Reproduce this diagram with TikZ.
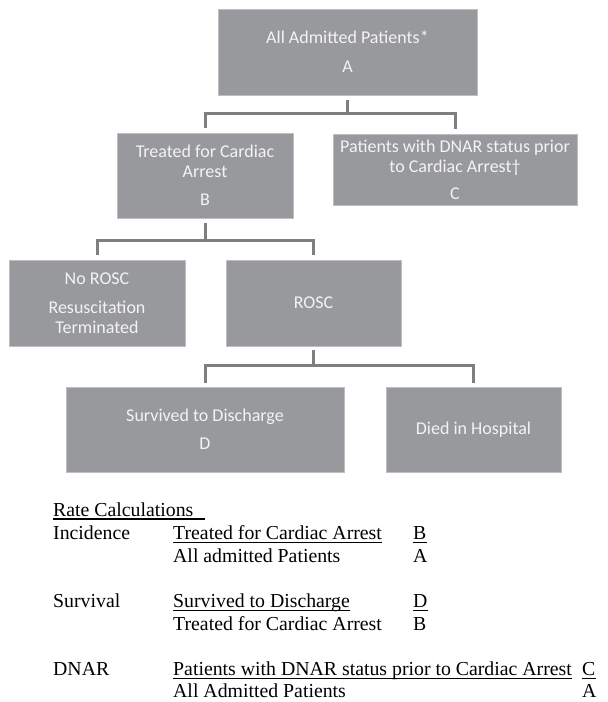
\documentclass[tikz,border=0pt]{standalone}
\usepackage{fontspec}
\setmainfont{Liberation Serif}
\newfontfamily\boxfont{Carlito}
\definecolor{boxgray}{RGB}{152,153,157}
\definecolor{boxedge}{RGB}{190,190,192}
\definecolor{linegray}{RGB}{127,127,127}
\definecolor{boxtext}{RGB}{243,243,243}
\begin{document}
\begin{tikzpicture}[x=1pt,y=-1pt,
  box/.style={rectangle, fill=boxgray, draw=boxedge, line width=0.6pt, inner sep=0pt,
    align=center, text=boxtext, font=\boxfont\fontsize{18}{20}\selectfont},
  conn/.style={draw=linegray, line width=3pt},
  lbl/.style={anchor=base west, inner sep=0pt, font=\fontsize{19.8}{23}\selectfont},
  uline/.style={line width=0.9pt}]
\useasboundingbox (0,0) rectangle (608,702);

% boxes
\node[box, minimum width=259pt, minimum height=86pt] (A) at (347.5,52) {All Admitted Patients*\\[9pt]A};
\node[box, minimum width=176pt, minimum height=85pt] (B) at (205,175.5) {Treated for Cardiac\\Arrest\\[8pt]B};
\node[box, minimum width=244pt, minimum height=71pt] (C) at (455,169.5) {Patients with DNAR status prior\\to Cardiac Arrest†\\[7pt]C};
\node[box, minimum width=176pt, minimum height=86pt] (N) at (97,303) {No ROSC\\[9pt]Resuscitation\\Terminated};
\node[box, minimum width=175pt, minimum height=86pt] (R) at (313.5,303) {ROSC};
\node[box, minimum width=278pt, minimum height=85pt] (S) at (205,429.5) {Survived to Discharge\\[8pt]D};
\node[box, minimum width=175pt, minimum height=85pt] (H) at (473.5,429.5) {Died in Hospital};

% junctions
\coordinate (jA) at (347.5,113);
\coordinate (jB) at (205,240);
\coordinate (jR) at (313.5,365);

% connectors
\draw[conn, shorten <=5pt] (A.south) -- (jA);
\draw[conn, shorten >=5pt] (jA) -| (B.north);
\draw[conn, shorten >=5pt] (jA) -| (C.north);
\draw[conn, shorten <=5pt] (B.south) -- (jB);
\draw[conn, shorten >=5pt] (jB) -| (N.north);
\draw[conn, shorten >=5pt] (jB) -| (R.north);
\draw[conn, shorten <=4pt] (R.south) -- (jR);
\draw[conn, shorten >=4pt] (jR) -| (S.north);
\draw[conn, shorten >=4pt] (jR) -| (H.north);

% rate calculations
\node[lbl] (rc) at (53,516) {Rate Calculations};
\draw[line width=2pt] ([yshift=-3pt]rc.base west) -- ++(152,0);

\node[lbl] (i1) at (53,539) {Incidence};
\node[lbl] (i2) at (173,539) {Treated for Cardiac Arrest};
\node[lbl] (i3) at (413,539) {B};
\node[lbl] (i4) at (173,562) {All admitted Patients};
\node[lbl] (i5) at (413,562) {A};
\draw[uline] ([yshift=-3pt]i2.base west) -- ([yshift=-3pt]i2.base east);
\draw[uline] ([yshift=-3pt]i3.base west) -- ([yshift=-3pt]i3.base east);

\node[lbl] (s1) at (53,607) {Survival};
\node[lbl] (s2) at (173,607) {Survived to Discharge};
\node[lbl] (s3) at (413,607) {D};
\node[lbl] (s4) at (173,630) {Treated for Cardiac Arrest};
\node[lbl] (s5) at (413,630) {B};
\draw[uline] ([yshift=-3pt]s2.base west) -- ([yshift=-3pt]s2.base east);
\draw[uline] ([yshift=-3pt]s3.base west) -- ([yshift=-3pt]s3.base east);

\node[lbl] (d1) at (53,675) {DNAR};
\node[lbl] (d2) at (173,675) {Patients with DNAR status prior to Cardiac Arrest};
\node[lbl] (d3) at (582,675) {C};
\node[lbl] (d4) at (173,697) {All Admitted Patients};
\node[lbl] (d5) at (582,697) {A};
\draw[uline] ([yshift=-3pt]d2.base west) -- ([yshift=-3pt]d2.base east);
\draw[uline] ([yshift=-3pt]d3.base west) -- ([yshift=-3pt]d3.base east);
\end{tikzpicture}
\end{document}
